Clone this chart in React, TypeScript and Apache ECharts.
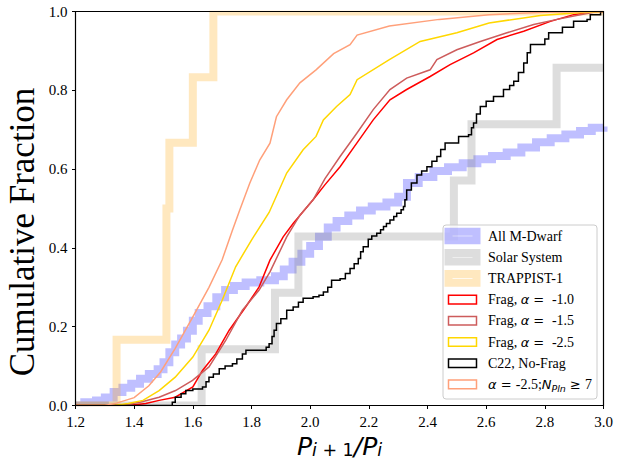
import React, { useEffect, useRef } from "react";
import * as echarts from "echarts";

// ---------- data ----------
const xTickMin = 1.2;
const xTickMax = 3.0;
const yTickMin = 0;
const yTickMax = 1;

const mDwarf = [
  [1.2, 0], [1.23, 0.008], [1.27, 0.013], [1.3, 0.02], [1.33, 0.034], [1.36, 0.045], [1.39, 0.055],
  [1.42, 0.068], [1.45, 0.08], [1.48, 0.092], [1.5, 0.11], [1.52, 0.135], [1.54, 0.155], [1.56, 0.17],
  [1.58, 0.19], [1.6, 0.215], [1.62, 0.235], [1.65, 0.252], [1.68, 0.275], [1.71, 0.293], [1.74, 0.303],
  [1.78, 0.312], [1.83, 0.318], [1.88, 0.328], [1.91, 0.345], [1.94, 0.365], [1.97, 0.385], [2.0, 0.405],
  [2.03, 0.428], [2.06, 0.452], [2.09, 0.468], [2.13, 0.482], [2.17, 0.495], [2.21, 0.505], [2.26, 0.515],
  [2.3, 0.53], [2.33, 0.565], [2.37, 0.58], [2.42, 0.595], [2.47, 0.605], [2.52, 0.615], [2.57, 0.625],
  [2.62, 0.633], [2.67, 0.642], [2.72, 0.655], [2.77, 0.668], [2.82, 0.678], [2.87, 0.688], [2.92, 0.697],
  [2.96, 0.705], [3.0, 0.708],
];

const solarSystem = [
  [1.2, 0], [1.63, 0.143], [1.88, 0.286], [1.96, 0.429], [2.49, 0.571], [2.55, 0.714], [2.84, 0.857], [3.0, 0.857],
];

const trappist = [
  [1.2, 0], [1.34, 0.167], [1.51, 0.5], [1.52, 0.667], [1.6, 0.833], [1.67, 1.0], [3.0, 1.0],
];

const fragA10 = [
  [1.2, 0], [1.38, 0], [1.44, 0.005], [1.485, 0.013], [1.54, 0.021], [1.6, 0.047], [1.633, 0.089],
  [1.678, 0.131], [1.724, 0.191], [1.78, 0.25], [1.826, 0.301], [1.863, 0.369], [1.908, 0.428],
  [1.942, 0.462], [2.01, 0.522], [2.05, 0.56], [2.102, 0.606], [2.159, 0.666], [2.215, 0.725],
  [2.272, 0.776], [2.329, 0.802], [2.409, 0.835], [2.477, 0.865], [2.557, 0.895], [2.637, 0.929],
  [2.728, 0.95], [2.819, 0.975], [2.898, 0.992], [2.97, 1.0], [3.0, 1.0],
];

const fragA15 = [
  [1.2, 0], [1.35, 0], [1.42, 0.008], [1.485, 0.021], [1.541, 0.038], [1.599, 0.064], [1.655, 0.098],
  [1.712, 0.165], [1.769, 0.242], [1.826, 0.293], [1.863, 0.339], [1.92, 0.428], [1.965, 0.483],
  [2.01, 0.522], [2.05, 0.575], [2.102, 0.632], [2.159, 0.691], [2.215, 0.751], [2.272, 0.802],
  [2.329, 0.831], [2.409, 0.852], [2.432, 0.878], [2.5, 0.903], [2.58, 0.924], [2.671, 0.946],
  [2.762, 0.967], [2.842, 0.98], [2.921, 0.992], [2.98, 1.0], [3.0, 1.0],
];

const fragA25 = [
  [1.2, 0], [1.33, 0], [1.38, 0.005], [1.43, 0.013], [1.485, 0.038], [1.54, 0.072], [1.6, 0.123],
  [1.655, 0.191], [1.7, 0.267], [1.746, 0.352], [1.8, 0.42], [1.86, 0.49], [1.92, 0.59], [1.976, 0.649],
  [2.02, 0.683], [2.045, 0.725], [2.09, 0.759], [2.136, 0.789], [2.16, 0.827], [2.27, 0.878],
  [2.375, 0.924], [2.5, 0.946], [2.61, 0.971], [2.785, 0.99], [2.9, 0.996], [3.0, 1.0],
];

const c22NoFrag = [
  [1.2, 0], [1.53, 0.008], [1.54, 0.021], [1.56, 0.03], [1.576, 0.038], [1.6, 0.042], [1.633, 0.047],
  [1.645, 0.06], [1.655, 0.072], [1.67, 0.08], [1.69, 0.093], [1.71, 0.1], [1.735, 0.106], [1.75, 0.118],
  [1.769, 0.131], [1.781, 0.14], [1.85, 0.148], [1.86, 0.157], [1.87, 0.175], [1.877, 0.191],
  [1.885, 0.208], [1.9, 0.22], [1.92, 0.242], [1.942, 0.25], [1.96, 0.262], [1.976, 0.272], [2.01, 0.276],
  [2.03, 0.28], [2.045, 0.288], [2.06, 0.3], [2.073, 0.318], [2.102, 0.322], [2.12, 0.335], [2.136, 0.348],
  [2.15, 0.36], [2.164, 0.373], [2.172, 0.39], [2.181, 0.403], [2.198, 0.422], [2.21, 0.43], [2.227, 0.437],
  [2.24, 0.446], [2.25, 0.454], [2.26, 0.462], [2.272, 0.471], [2.285, 0.48], [2.295, 0.488], [2.31, 0.497],
  [2.318, 0.505], [2.323, 0.522], [2.329, 0.547], [2.345, 0.565], [2.364, 0.585], [2.38, 0.595],
  [2.398, 0.606], [2.415, 0.62], [2.432, 0.632], [2.445, 0.65], [2.46, 0.666], [2.506, 0.683],
  [2.54, 0.687], [2.55, 0.705], [2.557, 0.717], [2.567, 0.74], [2.58, 0.759], [2.6, 0.772], [2.625, 0.784],
  [2.659, 0.802], [2.68, 0.812], [2.694, 0.823], [2.71, 0.845], [2.728, 0.869], [2.74, 0.895],
  [2.751, 0.916], [2.8, 0.93], [2.813, 0.946], [2.86, 0.96], [2.898, 0.975], [2.944, 0.98], [2.955, 0.992],
  [2.99, 1.0], [3.0, 1.0],
];

const nPlnGe7 = [
  [1.2, 0], [1.3, 0], [1.34, 0.006], [1.4, 0.02], [1.45, 0.05], [1.49, 0.085], [1.54, 0.145], [1.6, 0.225],
  [1.655, 0.3], [1.7, 0.37], [1.735, 0.445], [1.76, 0.496], [1.794, 0.564], [1.828, 0.623], [1.863, 0.666],
  [1.885, 0.733], [1.92, 0.776], [1.965, 0.819], [2.02, 0.852], [2.08, 0.893], [2.136, 0.916], [2.16, 0.94],
  [2.27, 0.963], [2.44, 0.98], [2.61, 0.992], [2.8, 0.998], [3.0, 1.0],
];

// legend entries
const legendNames = [
  "All M-Dwarf", "Solar System", "TRAPPIST-1",
  "Frag, α = -1.0", "Frag, α = -1.5", "Frag, α = -2.5",
  "C22, No-Frag", "α = -2.5;NPln ≥ 7",
];

const COL_BLUE = "rgba(0,0,255,0.25)";
const COL_GRAY = "rgba(128,128,128,0.27)";
const COL_ORANGE = "rgba(255,165,0,0.25)";
const COL_RED = "#ff0000";
const COL_BROWN = "#cd5c5c";
const COL_GOLD = "#ffd700";
const COL_BLACK = "#000000";
const COL_SALMON = "#ffa07a";

const SERIF = "'Liberation Serif', 'Times New Roman', serif";
const SANS = "'DejaVu Sans', sans-serif";

export default function App() {
  const ref = useRef<HTMLDivElement>(null);

  useEffect(() => {
    const chart = echarts.init(ref.current!, null, { renderer: "svg" });

    const thick = (name: string, data: number[][], color: string) => ({
      name,
      type: "line",
      data,
      step: "end",
      showSymbol: false,
      symbol: "none",
      silent: true,
      lineStyle: { color, width: 8, join: "miter", cap: "butt" },
      z: 2,
    });
    const thin = (name: string, data: number[][], color: string, step: boolean) => ({
      name,
      type: "line",
      data,
      step: step ? "end" : false,
      showSymbol: false,
      symbol: "none",
      silent: true,
      lineStyle: { color, width: 1.5, join: "miter" },
      z: 3,
    });

    // legend drawn with graphic elements
    const lgX = 443, lgY = 225, lgW = 154, lgH = 174;
    const rowY = (i: number) => 236 + i * 21.2;
    const legendColors = [COL_BLUE, COL_GRAY, COL_ORANGE, COL_RED, COL_BROWN, COL_GOLD, COL_BLACK, COL_SALMON];
    const legendRich = [
      "{t|All M-Dwarf}",
      "{t|Solar System}",
      "{t|TRAPPIST-1}",
      "{t|Frag, }{m|α}{e| = }{t| -1.0}",
      "{t|Frag, }{m|α}{e| = }{t| -1.5}",
      "{t|Frag, }{m|α}{e| = }{t| -2.5}",
      "{t|C22, No-Frag}",
      "{m|α}{e| = }{t|-2.5;}{m|N}{s|Pln}{e| ≥ }{t|7}",
    ];
    const legendEls: any[] = [
      {
        type: "rect",
        id: "legend-box",
        shape: { x: lgX, y: lgY, width: lgW, height: lgH, r: 3 },
        style: { fill: "rgba(255,255,255,0.8)", stroke: "#cccccc", lineWidth: 1 },
        z: 7,
      },
    ];
    legendNames.forEach((nm, i) => {
      const cy = rowY(i);
      const isThick = i < 3;
      legendEls.push({
        type: "rect",
        id: "legend-icon-" + i,
        shape: { x: 448.5, y: cy - 4.3, width: 28, height: 8.6 },
        style: { fill: "none", stroke: legendColors[i], lineWidth: isThick ? 8 : 1.5 },
        z: 8,
      });
      legendEls.push({
        type: "text",
        id: "legend-text-" + i,
        x: 488,
        y: cy,
        style: {
          text: legendRich[i],
          verticalAlign: "middle",
          align: "left",
          fill: "#000",
          rich: {
            t: { fontFamily: SERIF, fontSize: 14, fill: "#000", lineHeight: 18, verticalAlign: "middle" },
            m: { fontFamily: SANS, fontStyle: "italic", fontSize: 13, fill: "#000", lineHeight: 18, verticalAlign: "middle" },
            e: { fontFamily: SANS, fontSize: 13, fill: "#000", lineHeight: 18, verticalAlign: "middle" },
            s: { fontFamily: SANS, fontStyle: "italic", fontSize: 9.5, fill: "#000", lineHeight: 18, verticalAlign: "bottom", padding: [6, 0, 0, 0] },
          },
        },
        z: 8,
      });
    });

    // the axes box, drawn through the axes' own scales
    const frameBox = [
      [xTickMin, yTickMin], [xTickMax, yTickMin], [xTickMax, yTickMax], [xTickMin, yTickMax], [xTickMin, yTickMin],
    ];

    const option: any = {
      animation: false,
      backgroundColor: "#ffffff",
      textStyle: { fontFamily: SERIF },
      grid: {
        left: 75.5, top: 11.5, right: 21.5, bottom: 55.5,
        containLabel: false, outerBoundsMode: "none",
      },
      xAxis: {
        type: "value",
        min: xTickMin,
        max: xTickMax,
        interval: 0.2,
        z: 10,
        axisLine: { show: false },
        axisTick: { show: true, length: 3.5, lineStyle: { color: "#000", width: 1 } },
        axisLabel: {
          margin: 9,
          color: "#000",
          fontFamily: SERIF,
          fontSize: 15,
          formatter: (v: number) => v.toFixed(1),
          showMinLabel: true,
          showMaxLabel: true,
        },
        splitLine: { show: false },
        name: "{p|P}{si|i}{su| + 1}{p|/P}{si|i}",
        nameLocation: "middle",
        nameGap: 22,
        nameTextStyle: {
          verticalAlign: "top",
          rich: {
            p: { fontFamily: SANS, fontStyle: "italic", fontSize: 25, color: "#000", lineHeight: 30, verticalAlign: "bottom" },
            si: { fontFamily: SANS, fontStyle: "italic", fontSize: 17.5, color: "#000", lineHeight: 14, verticalAlign: "bottom" },
            su: { fontFamily: SANS, fontSize: 17.5, color: "#000", lineHeight: 14, verticalAlign: "bottom" },
          },
        },
      },
      yAxis: {
        type: "value",
        min: yTickMin,
        max: yTickMax,
        interval: 0.2,
        z: 10,
        axisLine: { show: false },
        axisTick: { show: true, length: 3.5, lineStyle: { color: "#000", width: 1 } },
        axisLabel: {
          margin: 8,
          color: "#000",
          fontFamily: SERIF,
          fontSize: 15,
          formatter: (v: number) => v.toFixed(1),
          showMinLabel: true,
          showMaxLabel: true,
        },
        splitLine: { show: false },
      },
      series: [
        thick("All M-Dwarf", mDwarf, COL_BLUE),
        thick("Solar System", solarSystem, COL_GRAY),
        thick("TRAPPIST-1", trappist, COL_ORANGE),
        thin("Frag, α = -1.0", fragA10, COL_RED, false),
        thin("Frag, α = -1.5", fragA15, COL_BROWN, false),
        thin("Frag, α = -2.5", fragA25, COL_GOLD, false),
        thin("C22, No-Frag", c22NoFrag, COL_BLACK, true),
        thin("α = -2.5;NPln ≥ 7", nPlnGe7, COL_SALMON, false),
        {
          name: "axes-frame",
          type: "line",
          data: frameBox,
          showSymbol: false,
          symbol: "none",
          silent: true,
          clip: false,
          lineStyle: { color: "#000000", width: 1.2, join: "miter" },
          z: 6,
        },
      ],
      graphic: [
        {
          type: "text",
          id: "ytitle",
          x: 22,
          y: 232,
          rotation: Math.PI / 2,
          style: {
            text: "Cumulative Fraction",
            fontFamily: SERIF,
            fontSize: 35,
            fill: "#000",
            align: "center",
            verticalAlign: "middle",
          },
          z: 9,
        },
        ...legendEls,
        { type: "rect", id: "mask-top", shape: { x: 0, y: 0, width: 625, height: 10.8 }, style: { fill: "rgb(255,255,255)" }, z: 5 },
        { type: "rect", id: "mask-bottom", shape: { x: 60, y: 406.2, width: 565, height: 6 }, style: { fill: "rgb(255,255,255)" }, z: 5 },
      ],
    };

    chart.setOption(option);
    return () => chart.dispose();
  }, []);

  return (
    <div
      ref={ref}
      style={{ position: "absolute", left: 0, top: 0, width: 625, height: 461 }}
    />
  );
}
